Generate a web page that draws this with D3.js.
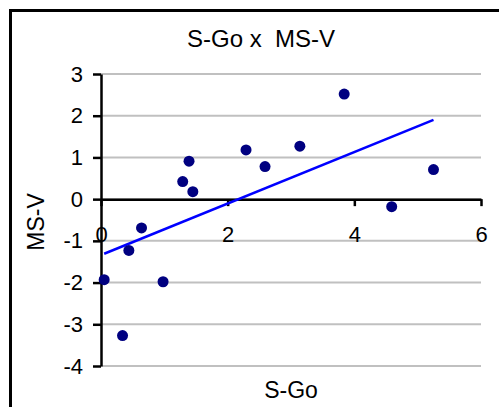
<!DOCTYPE html>
<html><head><meta charset="utf-8">
<script src="https://cdn.jsdelivr.net/npm/d3@7"></script>
<style>body{margin:0;background:#fff;}svg{display:block;}text{font-family:"Liberation Sans",Arial,sans-serif;fill:#000;white-space:pre;}</style>
</head><body>
<svg id="c" width="499" height="407"></svg>
<script>
const title = "S-Go x  MS-V";
const xTitle = "S-Go";
const yTitle = "MS-V";
const xTicks = [0, 2, 4, 6];
const yTicks = [-4, -3, -2, -1, 0, 1, 2, 3];
const sGo = [0.05, 0.34, 0.44, 0.64, 0.98, 1.29, 1.39, 1.45, 2.29, 2.59, 3.14, 3.84, 4.59, 5.25];
const msV = [-1.93, -3.27, -1.23, -0.69, -1.98, 0.42, 0.91, 0.18, 1.18, 0.78, 1.27, 2.52, -0.18, 0.71];

const svg = d3.select("#c");
const x = d3.scaleLinear().domain([0, 6]).range([101, 481]);
const y = d3.scaleLinear().domain([-4, 3]).range([366, 74]);
const fmt = d => String(d);

// border
svg.append("rect").attr("x", 10.5).attr("y", 10.5).attr("width", 600).attr("height", 600)
  .attr("fill", "none").attr("stroke", "#000").attr("stroke-width", 3);

// title
svg.append("text").attr("x", 261).attr("y", 47).attr("text-anchor", "middle")
  .attr("font-size", 24).attr("xml:space", "preserve").text(title);

// gridlines
svg.append("g").selectAll("line").data(yTicks).join("line")
  .attr("x1", x(0)).attr("x2", x(6)).attr("y1", d => y(d)).attr("y2", d => y(d))
  .attr("stroke", "#c0c0c0").attr("stroke-width", 2);

// y axis
const ya = svg.append("g").attr("transform", `translate(${x(0)},0)`)
  .call(d3.axisLeft(y).tickValues(yTicks).tickFormat(fmt).tickSize(8).tickPadding(10).tickSizeOuter(0));
ya.attr("font-size", null).attr("font-family", null);
ya.select(".domain").attr("stroke", "#000").attr("stroke-width", 2.5);
ya.selectAll(".tick line").attr("stroke", "#000").attr("stroke-width", 2.5);
ya.selectAll("text").attr("font-size", 22).attr("fill", "#000");

// x axis at y=0
const xa = svg.append("g").attr("transform", `translate(0,${y(0)})`)
  .call(d3.axisBottom(x).tickValues(xTicks).tickFormat(fmt).tickSize(7).tickPadding(20).tickSizeOuter(0));
xa.attr("font-size", null).attr("font-family", null);
xa.select(".domain").attr("stroke", "#000").attr("stroke-width", 2.5);
xa.selectAll(".tick line").attr("stroke", "#000").attr("stroke-width", 2.5);
xa.selectAll("text").attr("font-size", 22).attr("fill", "#000");

// axis titles
svg.append("text").attr("x", 291).attr("y", 398).attr("text-anchor", "middle")
  .attr("font-size", 23).text(xTitle);
svg.append("text").attr("transform", `translate(44,222) rotate(-90)`).attr("text-anchor", "middle")
  .attr("font-size", 23).text(yTitle);

// linear trendline (least squares)
const mx = d3.mean(sGo), my = d3.mean(msV);
let sxy = 0, sxx = 0;
sGo.forEach((v, i) => { sxy += (v - mx) * (msV[i] - my); sxx += (v - mx) * (v - mx); });
const slope = sxy / sxx, icpt = my - slope * mx;
const [x0, x1] = d3.extent(sGo);
svg.append("line").attr("x1", x(x0)).attr("y1", y(icpt + slope * x0))
  .attr("x2", x(x1)).attr("y2", y(icpt + slope * x1))
  .attr("stroke", "#0000ff").attr("stroke-width", 2.5);

// points
svg.append("g").selectAll("circle").data(sGo.map((v, i) => [v, msV[i]])).join("circle")
  .attr("cx", d => x(d[0])).attr("cy", d => y(d[1])).attr("r", 5.5).attr("fill", "#000080");
</script>
</body></html>
